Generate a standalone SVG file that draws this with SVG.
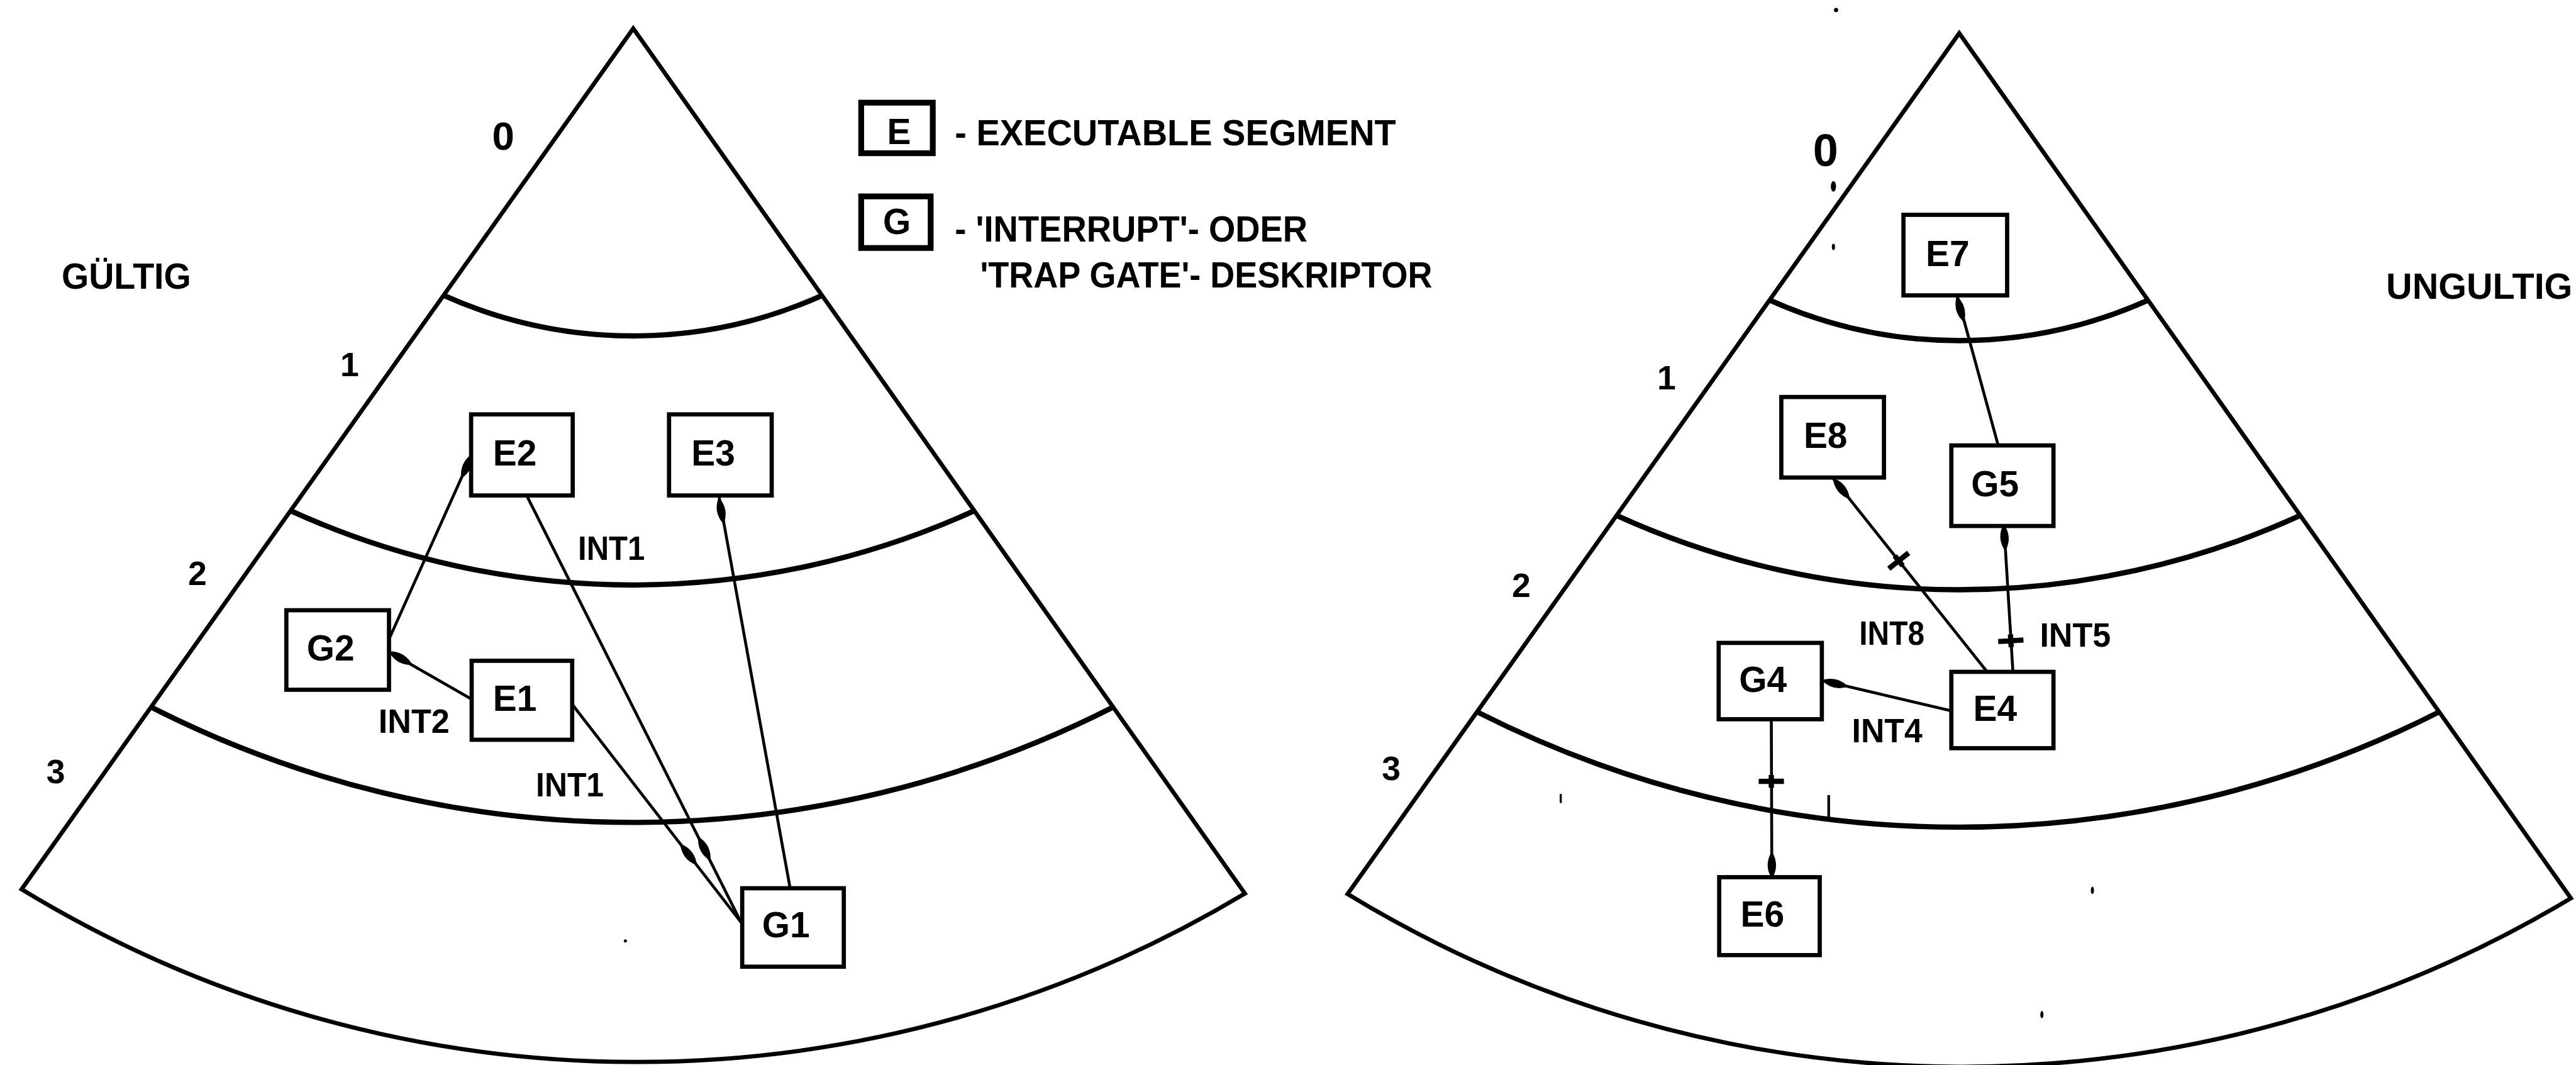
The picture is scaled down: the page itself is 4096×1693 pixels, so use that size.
<svg xmlns="http://www.w3.org/2000/svg" width="4096" height="1693" viewBox="0 0 4096 1693">
<style>
.fan{fill:none;stroke:#000;stroke-width:8;stroke-linejoin:miter}
.ring{fill:none;stroke:#000;stroke-width:10}
.node rect{fill:#fff;stroke:#000;stroke-width:8}
.leg rect{fill:#fff;stroke:#000;stroke-width:11}
.conn path{fill:none;stroke:#000;stroke-width:5.5}
text{font-family:"Liberation Sans",Arial,sans-serif;font-weight:bold;fill:#000}
.lbl{font-size:68px;text-anchor:middle}
.int{font-size:63px}
.lg{font-size:68px}
.num{font-size:64px;text-anchor:middle}
</style>
<defs>
<path id="head" d="M -26 0 Q 0 -16 26 0 Q 0 16 -26 0 Z" fill="#000"/>
<g id="cross" stroke="#000" stroke-width="10" fill="none"><path d="M 0 -24 L 0 24 M -12 0 L 12 0"/></g>
<g id="fanshape">
<path class="fan" d="M 41 1689 L 1203 54 L 2365 1697 A 2246 2246 0 0 1 41 1689 Z"/>
<path class="ring" d="M 843 561 A 878 878 0 0 0 1562 561"/>
<path class="ring" d="M 552 970 A 1566 1566 0 0 0 1851 970"/>
<path class="ring" d="M 287 1343 A 2017 2017 0 0 0 2115 1343"/>
</g>
</defs>
<rect width="4096" height="1693" fill="#fff"/>
<g transform="scale(0.837)">
<g id="fan-left"><use href="#fanshape"/></g>
<g id="fan-right"><use href="#fanshape" transform="translate(2519,9)"/></g>

<g id="fan-labels">
<text class="num" x="956" y="284" style="font-size:76px">0</text>
<text class="num" x="664" y="715">1</text>
<text class="num" x="375" y="1111">2</text>
<text class="num" x="106" y="1488">3</text>
<text class="num" x="3468" y="316" style="font-size:86px">0</text>
<text class="num" x="3166" y="740">1</text>
<text class="num" x="2890" y="1134">2</text>
<text class="num" x="2643" y="1482">3</text>
<text class="lg" x="117" y="548" textLength="246" lengthAdjust="spacingAndGlyphs">GÜLTIG</text>
<text class="lg" x="4533" y="567" textLength="354" lengthAdjust="spacingAndGlyphs">UNGULTIG</text>
</g>

<g id="legend">
<g id="legend-E" class="leg"><rect x="1636" y="195" width="136" height="96"/><text class="lbl" x="1708" y="273">E</text></g>
<g id="legend-G" class="leg"><rect x="1636" y="373" width="132" height="98"/><text class="lbl" x="1704" y="445">G</text></g>
<text class="lg" x="1814" y="276" textLength="838" lengthAdjust="spacingAndGlyphs">- EXECUTABLE SEGMENT</text>
<text class="lg" x="1814" y="459" textLength="670" lengthAdjust="spacingAndGlyphs">- 'INTERRUPT'- ODER</text>
<text class="lg" x="1862" y="546" textLength="859" lengthAdjust="spacingAndGlyphs">'TRAP GATE'- DESKRIPTOR</text>
</g>

<g id="connectors" class="conn">
<path d="M 739 1214 L 897 862"/>
<path d="M 896 1328 L 739 1238"/>
<path d="M 1002 944 L 1408 1752"/>
<path d="M 1088 1339 L 1408 1752"/>
<path d="M 1501 1687 L 1366 943"/>
<path d="M 3796 846 L 3718 561"/>
<path d="M 3775 1276 L 3482 908"/>
<path d="M 3824 1276 L 3807 999"/>
<path d="M 3707 1350 L 3461 1292"/>
<path d="M 3365 1366 L 3366 1666"/>
<use href="#head" transform="translate(887,885) rotate(-65.8)"/>
<use href="#head" transform="translate(761,1250) rotate(29.8)"/>
<use href="#head" transform="translate(1338,1612) rotate(63.3)"/>
<use href="#head" transform="translate(1308,1623) rotate(52.2)"/>
<use href="#head" transform="translate(1370,970) rotate(79.7)"/>
<use href="#head" transform="translate(3724,587) rotate(74.7)"/>
<use href="#head" transform="translate(3498,928) rotate(51.5)"/>
<use href="#head" transform="translate(3808,1021) rotate(86.5)"/>
<use href="#head" transform="translate(3486,1298) rotate(13.3)"/>
<use href="#head" transform="translate(3366,1643) rotate(89.8)"/>
<use href="#cross" transform="translate(3607,1065) rotate(51.5)"/>
<use href="#cross" transform="translate(3820,1217) rotate(86.5)"/>
<use href="#cross" transform="translate(3365,1484) rotate(89.8)"/>
<text class="int" x="1098" y="1063" textLength="127" lengthAdjust="spacingAndGlyphs">INT1</text>
<text class="int" x="719" y="1392" textLength="135" lengthAdjust="spacingAndGlyphs">INT2</text>
<text class="int" x="1018" y="1513" textLength="129" lengthAdjust="spacingAndGlyphs">INT1</text>
<text class="int" x="3532" y="1225" textLength="124" lengthAdjust="spacingAndGlyphs">INT8</text>
<text class="int" x="3875" y="1228" textLength="135" lengthAdjust="spacingAndGlyphs">INT5</text>
<text class="int" x="3518" y="1410" textLength="134" lengthAdjust="spacingAndGlyphs">INT4</text>
</g>

<g id="node-E2" class="node"><rect x="895" y="787" width="193" height="154"/><text class="lbl" x="978" y="884">E2</text></g>
<g id="node-E3" class="node"><rect x="1271" y="787" width="195" height="154"/><text class="lbl" x="1355" y="884">E3</text></g>
<g id="node-G2" class="node"><rect x="544" y="1159" width="195" height="151"/><text class="lbl" x="628" y="1255">G2</text></g>
<g id="node-E1" class="node"><rect x="896" y="1255" width="191" height="150"/><text class="lbl" x="978" y="1350">E1</text></g>
<g id="node-G1" class="node"><rect x="1410" y="1687" width="193" height="149"/><text class="lbl" x="1493" y="1780">G1</text></g>
<g id="node-E7" class="node"><rect x="3616" y="408" width="197" height="153"/><text class="lbl" x="3700" y="505">E7</text></g>
<g id="node-E8" class="node"><rect x="3384" y="754" width="195" height="153"/><text class="lbl" x="3468" y="851">E8</text></g>
<g id="node-G5" class="node"><rect x="3707" y="846" width="194" height="153"/><text class="lbl" x="3790" y="943">G5</text></g>
<g id="node-G4" class="node"><rect x="3265" y="1221" width="196" height="145"/><text class="lbl" x="3349" y="1314">G4</text></g>
<g id="node-E4" class="node"><rect x="3707" y="1276" width="194" height="145"/><text class="lbl" x="3790" y="1369">E4</text></g>
<g id="node-E6" class="node"><rect x="3266" y="1666" width="191" height="148"/><text class="lbl" x="3348" y="1760">E6</text></g>

<g id="marks" fill="#000" stroke="#000">
<ellipse cx="3483" cy="354" rx="5" ry="10" stroke="none"/>
<ellipse cx="3483" cy="469" rx="3" ry="6" stroke="none"/>
<circle cx="3488" cy="19" r="4" stroke="none"/>
<path d="M 3474 1510 L 3474 1556" stroke-width="5" fill="none"/>
<path d="M 2965 1508 L 2965 1525" stroke-width="4" fill="none"/>
<ellipse cx="3975" cy="1691" rx="3" ry="7" stroke="none"/>
<ellipse cx="3879" cy="1927" rx="3" ry="7" stroke="none"/>
<circle cx="1188" cy="1787" r="3" stroke="none"/>
</g>
</g>
</svg>
